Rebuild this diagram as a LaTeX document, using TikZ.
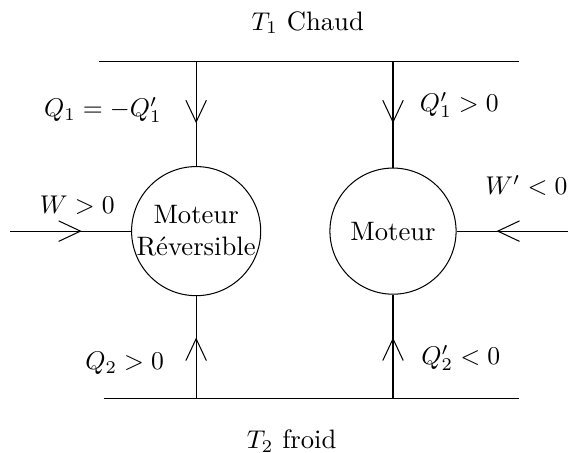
\documentclass[tikz,border=0pt]{standalone}
\usetikzlibrary{arrows.meta, decorations.markings}

\begin{document}
\begin{tikzpicture}[
	every node/.style={font=\fontsize{10.4}{12.5}\selectfont},
	engine/.style={
		draw,
		circle,
		minimum size=1.73cm,
		inner sep=0pt,
		align=center
	},
	flow/.style={
		postaction={decorate},
		decoration={markings,
			mark=at position #1 with {\arrow{Straight Barb[length=8.5pt, width=8pt]}}}
	}
	]
	
	\useasboundingbox (0,0) rectangle (7.79,6.21);
	
	% reservoirs
	\coordinate (hotL) at (1.36,5.37);
	\coordinate (hotR) at (7.12,5.37);
	\coordinate (coldL) at (1.42,0.74);
	\coordinate (coldR) at (7.12,0.74);
	
	\draw (hotL) -- (hotR);
	\draw (coldL) -- (coldR);
	
	\node (hot) at (4.22,5.90) {$T_1$ Chaud};
	\node (cold) at (4.00,0.16) {$T_2$ froid};
	
	% engines
	\node[engine] (rev) at (2.69,3.04) {Moteur\\R\'eversible};
	\node[engine] (mot) at (5.39,3.04) {Moteur};
	
	\coordinate (revhot) at (rev |- hotL);
	\coordinate (revcold) at (rev |- coldL);
	\coordinate (mothot) at (mot |- hotL);
	\coordinate (motcold) at (mot |- coldL);
	\coordinate (win) at (0.14,3.04);
	\coordinate (wout) at (7.79,3.04);
	
	\draw[flow=0.85cm] (revhot) -- (rev.north);
	\draw[flow=0.85cm] (mothot) -- (mot.north);
	\draw[flow=0.84cm] (revcold) -- (rev.south);
	\draw[flow=0.84cm] (motcold) -- (mot.south);
	\draw[flow=0.98cm] (win) -- (rev.west);
	\draw[flow=0.98cm] (wout) -- (mot.east);
	
	% labels
	\node (q1) at (1.41,4.70) {$Q_1=-Q'_1$};
	\node (q1p) at (6.30,4.77) {$Q'_1>0$};
	\node (w) at (1.06,3.40) {$W>0$};
	\node (wp) at (7.22,3.67) {$W'<0$};
	\node (q2) at (1.71,1.23) {$Q_2>0$};
	\node (q2p) at (6.32,1.30) {$Q'_2<0$};
	
\end{tikzpicture}
\end{document}
